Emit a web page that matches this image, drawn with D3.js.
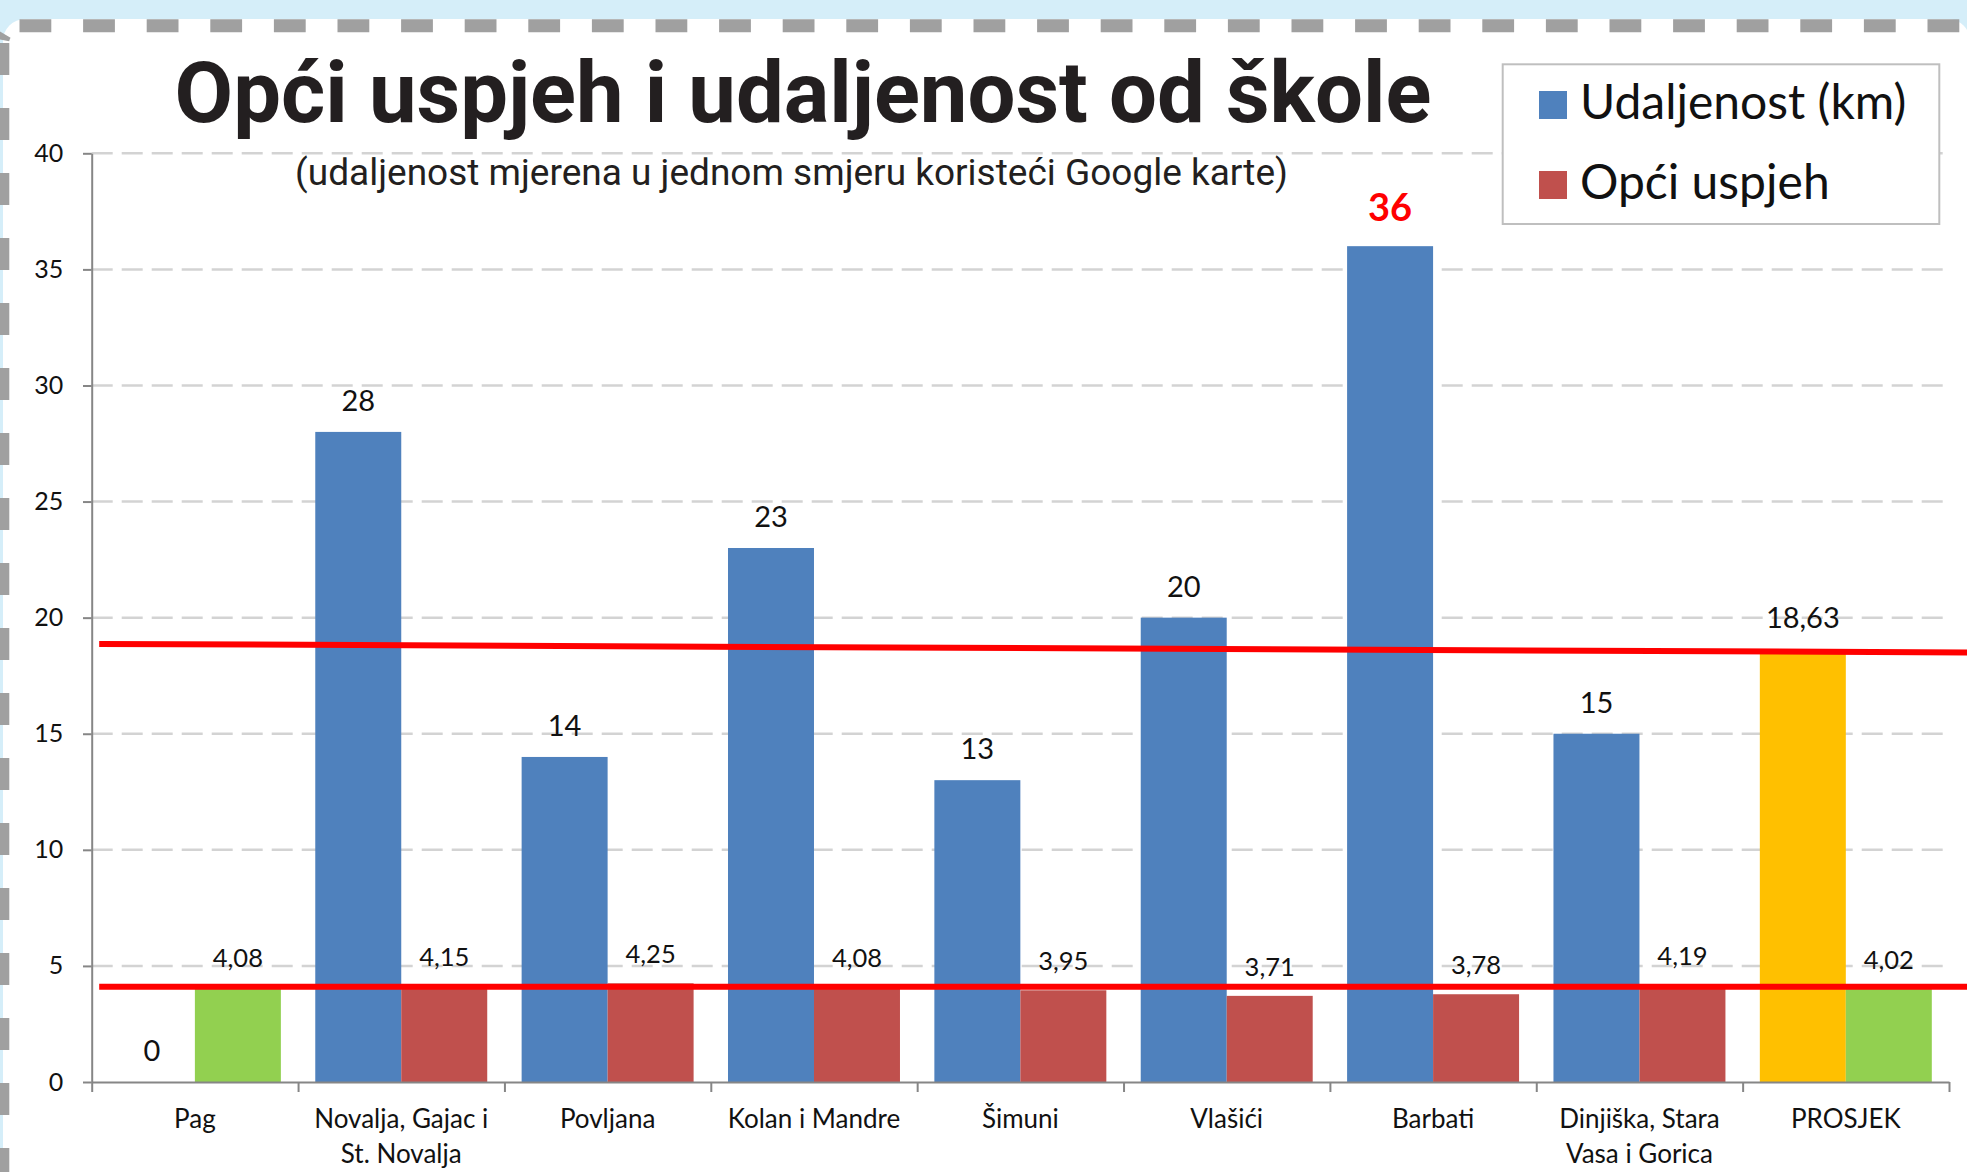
<!DOCTYPE html>
<meta charset="utf-8">
<body style="margin:0">
<style>
  body { background: #D5EEF9; overflow: hidden; }
  text { font-family: Lato, "Open Sans", sans-serif; }
</style>
<script src="https://d3js.org/d3.v7.min.js"></script>
<script>
// categories and values
var categories = ["Pag", "Novalja, Gajac i St. Novalja", "Povljana", "Kolan i Mandre", "Šimuni",
                  "Vlašići", "Barbati", "Dinjiška, Stara Vasa i Gorica", "PROSJEK"];
var categoryLines = [["Pag"], ["Novalja, Gajac i", "St. Novalja"], ["Povljana"], ["Kolan i Mandre"], ["Šimuni"],
                     ["Vlašići"], ["Barbati"], ["Dinjiška, Stara", "Vasa i Gorica"], ["PROSJEK"]];
var distance = [0, 28, 14, 23, 13, 20, 36, 15, 18.63];   // Udaljenost (km)
var success  = [4.08, 4.15, 4.25, 4.08, 3.95, 3.71, 3.78, 4.19, 4.02]; // Opći uspjeh
var yTicks = [0, 5, 10, 15, 20, 25, 30, 35, 40];
var seriesNames = ["Udaljenost (km)", "Opći uspjeh"];
// hand drawn red lines (start value, end value)
var distLine = [18.87, 18.50];
var succLine = [4.10, 4.10];

var W = 1967, H = 1172;
var pLeft = 91.7, pRight = 1949, pTop = 153.3, pBottom = 1082;
var blue = "#4F81BD", red = "#C0504D", green = "#92D050", gold = "#FFC000";
var fmt = function(v){ return String(v).replace(".", ","); };

var svg = d3.select("body").append("svg")
  .attr("width", W).attr("height", H);

// page + dashed border
svg.append("rect").attr("x", 0).attr("y", 0).attr("width", W).attr("height", H).attr("fill", "#D5EEF9");
svg.append("rect").attr("x", 3).attr("y", 19).attr("width", W).attr("height", H).attr("rx", 22).attr("fill", "#fff");
svg.append("line").attr("x1", 19.5).attr("x2", W).attr("y1", 25.7).attr("y2", 25.7)
  .attr("stroke", "#A0A0A0").attr("stroke-width", 13).attr("stroke-dasharray", "31.8,31.8");
svg.append("line").attr("x1", 2.8).attr("x2", 2.8).attr("y1", 43).attr("y2", H)
  .attr("stroke", "#A0A0A0").attr("stroke-width", 13).attr("stroke-dasharray", "32,33");
svg.append("path").attr("d", "M2.8,40 A18,18 0 0 1 20,25.7")
  .attr("fill", "none").attr("stroke", "#A0A0A0").attr("stroke-width", 13).attr("stroke-dasharray", "6,20");

// scales
var y = d3.scaleLinear().domain([0, 40]).range([pBottom, pTop]);
var x0 = d3.scaleBand().domain(categories).range([pLeft, pRight]).padding(0);
var x1 = d3.scaleBand().domain(["d", "s"]).range([0, x0.bandwidth()]).paddingInner(0).paddingOuter(0.2);
var xb = d3.scaleLinear().domain([0, categories.length]).range([pLeft, pRight]);

// gridlines
svg.append("g").selectAll("line")
  .data(yTicks.filter(function(d){ return d > 0; }))
  .join("line")
  .attr("x1", pLeft).attr("x2", pRight)
  .attr("y1", function(d){ return y(d); }).attr("y2", function(d){ return y(d); })
  .attr("stroke", "#D3D3D3").attr("stroke-width", 2.5).attr("stroke-dasharray", "21,9");

// bars
var rows = categories.map(function(c, i){ return {c: c, i: i, d: distance[i], s: success[i]}; });
var avgIdx = categories.indexOf("PROSJEK");
var maxIdx = distance.indexOf(d3.max(distance));

svg.append("g").selectAll("rect")
  .data(rows.filter(function(r){ return r.d > 0; }))
  .join("rect")
  .attr("x", function(r){ return x0(r.c) + x1("d"); })
  .attr("width", x1.bandwidth())
  .attr("y", function(r){ return y(r.d); })
  .attr("height", function(r){ return y(0) - y(r.d); })
  .attr("fill", function(r){ return r.i === avgIdx ? gold : blue; });

svg.append("g").selectAll("rect")
  .data(rows)
  .join("rect")
  .attr("x", function(r){ return x0(r.c) + x1("s"); })
  .attr("width", x1.bandwidth())
  .attr("y", function(r){ return y(r.s); })
  .attr("height", function(r){ return y(0) - y(r.s); })
  .attr("fill", function(r){ return (r.i === 0 || r.i === avgIdx) ? green : red; });

// red lines
[distLine, succLine].forEach(function(l){
  svg.append("line")
    .attr("x1", pLeft + 7.5).attr("x2", W)
    .attr("y1", y(l[0])).attr("y2", y(l[1]))
    .attr("stroke", "#FF0000").attr("stroke-width", 6);
});

// axes
var yAxis = svg.append("g").attr("transform", "translate(" + pLeft + ",0)")
  .call(d3.axisLeft(y).tickValues(yTicks).tickSize(8.7).tickSizeOuter(0).tickPadding(19.7));
var xAxis = svg.append("g").attr("transform", "translate(0," + pBottom + ")")
  .call(d3.axisBottom(xb).tickValues(d3.range(categories.length + 1)).tickSize(10).tickSizeOuter(0).tickFormat(""));
[yAxis, xAxis].forEach(function(a){
  a.selectAll("path, line").attr("stroke", "#868686").attr("stroke-width", 2);
});
yAxis.selectAll("text").attr("font-family", "Lato, sans-serif").attr("font-size", 25).attr("fill", "#111");

// category labels
var cat = svg.append("g").selectAll("text")
  .data(rows)
  .join("text")
  .attr("x", function(r){ return x0(r.c) + x0.bandwidth() / 2; })
  .attr("y", 1128)
  .attr("text-anchor", "middle")
  .attr("font-size", 26).attr("fill", "#111");
cat.selectAll("tspan")
  .data(function(r){ return categoryLines[r.i]; })
  .join("tspan")
  .attr("x", function(){ return d3.select(this.parentNode).attr("x"); })
  .attr("dy", function(d, k){ return k === 0 ? 0 : 35; })
  .text(function(d){ return d; });

// value labels
svg.append("g").selectAll("text")
  .data(rows)
  .join("text")
  .attr("x", function(r){ return x0(r.c) + x1("d") + x1.bandwidth() / 2; })
  .attr("y", function(r){ return y(r.d) - (r.i === maxIdx ? 25 : 21); })
  .attr("text-anchor", "middle")
  .attr("font-size", function(r){ return r.i === maxIdx ? 38 : 29; })
  .attr("font-weight", function(r){ return r.i === maxIdx ? "bold" : "normal"; })
  .attr("fill", function(r){ return r.i === maxIdx ? "#FF0000" : "#111"; })
  .text(function(r){ return fmt(r.d); });

svg.append("g").selectAll("text")
  .data(rows)
  .join("text")
  .attr("x", function(r){ return x0(r.c) + x1("s") + x1.bandwidth() / 2; })
  .attr("y", function(r){ return y(r.s) - 20; })
  .attr("text-anchor", "middle")
  .attr("font-size", 25.5).attr("fill", "#111")
  .text(function(r){ return fmt(r.s); });

// title
svg.append("text")
  .attr("x", 803).attr("y", 121.7)
  .attr("text-anchor", "middle")
  .style("font-family", "Roboto, sans-serif")
  .attr("font-weight", "bold").attr("font-size", 85).attr("fill", "#231F20")
  .text("Opći uspjeh i udaljenost od škole");
svg.append("text")
  .attr("x", 791.5).attr("y", 185)
  .attr("text-anchor", "middle")
  .style("font-family", "Roboto, sans-serif")
  .attr("font-size", 37).attr("fill", "#231F20")
  .text("(udaljenost mjerena u jednom smjeru koristeći Google karte)");

// legend
var lg = svg.append("g");
lg.append("rect").attr("x", 1502.7).attr("y", 64.3).attr("width", 436.6).attr("height", 159.7)
  .attr("fill", "#fff").attr("stroke", "#BFBFBF").attr("stroke-width", 2);
var li = lg.selectAll("g.item").data(seriesNames).join("g").attr("class", "item")
  .attr("transform", function(d, i){ return "translate(1539," + (91 + i * 80) + ")"; });
li.append("rect").attr("width", 28).attr("height", 28)
  .attr("fill", function(d, i){ return i === 0 ? blue : red; });
li.append("text").attr("x", 41).attr("y", 28)
  .attr("font-size", 48).attr("fill", "#111")
  .text(function(d){ return d; });
</script>
</body>
